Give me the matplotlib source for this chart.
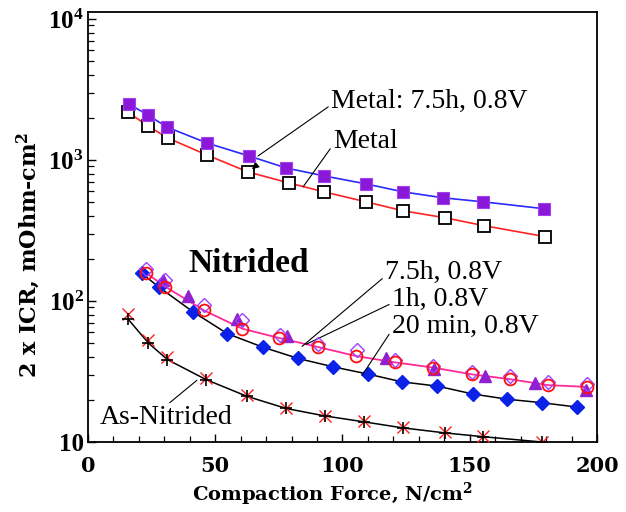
import matplotlib
matplotlib.use("Agg")
import matplotlib.pyplot as plt
from matplotlib.ticker import FixedLocator, FixedFormatter, MultipleLocator, LogLocator, NullFormatter

plt.rcParams['font.family'] = ['Liberation Serif', 'DejaVu Serif']
plt.rcParams['mathtext.fontset'] = 'custom'
plt.rcParams['mathtext.rm'] = 'Liberation Serif:bold'
plt.rcParams['mathtext.bf'] = 'Liberation Serif:bold'

# ---- data ----
metal75_x = [16.1, 23.6, 31.0, 46.8, 63.3, 77.8, 92.7, 109.2, 123.8, 139.5, 155.2, 179.2]
metal75_y = [2490, 2080, 1711, 1318, 1067, 878, 771, 677, 594, 539, 505, 451]

metal_x = [15.7, 23.6, 31.4, 46.8, 62.9, 79.0, 92.7, 109.2, 123.8, 140.3, 155.6, 179.6]
metal_y = [2183, 1738, 1430, 1083, 822, 687, 594, 505, 436, 389, 342, 286]

min20_x = [21.1, 28.0, 41.4, 54.8, 68.6, 82.6, 96.4, 110.1, 123.3, 137.3, 151.2, 164.8, 178.3, 192.0]
min20_y = [157, 125, 83.4, 58.6, 47.1, 39.1, 34.1, 30.3, 26.7, 24.9, 21.9, 20.1, 19.0, 17.7]

h75_x = [22.8, 30.3, 45.6, 60.6, 75.2, 90.5, 105.3, 120.6, 135.7, 150.7, 165.8, 180.9, 195.9]
h75_y = [158, 126.5, 85.7, 63.6, 54.6, 47.1, 40.7, 36.7, 33.7, 30.2, 27.9, 25.3, 24.6]

h1_x = [22.9, 30.3, 45.6, 60.4, 75.4, 90.5, 105.6, 120.6, 135.6, 150.7, 165.8, 180.9, 195.9]
h1_y = [169, 140, 92.9, 72.8, 57.7, 49.9, 44.7, 38.4, 34.4, 31.4, 29.3, 26.7, 25.7]

tri_x = [29.6, 39.4, 58.4, 78.3, 117.1, 136.0, 156.0, 175.6, 195.7]
tri_y = [140, 108, 74, 56.4, 39.1, 33.2, 29.3, 26.0, 23.3]

asn_x = [15.6, 23.7, 31.2, 46.4, 62.4, 77.8, 93.1, 108.4, 123.6, 140.3, 155.3, 178.3]
asn_y = [74.9, 50.4, 38.4, 27.7, 21.1, 17.3, 15.3, 13.9, 12.6, 11.6, 10.9, 10.0]
asn_red_y = [80.6, 52.5, 40.0, 28.6, 21.4, 17.3, 15.4, 14.0, 12.8, 11.7, 11.0, 10.0]

ytick_vals = [10, 100, 1000, 10000]
ytick_labels = ['10', r'$\mathregular{10^2}$', r'$\mathregular{10^3}$', r'$\mathregular{10^4}$']
xtick_vals = [0, 50, 100, 150, 200]

fig = plt.figure(figsize=(6.26, 5.12), dpi=100)
ax = fig.add_axes([88/626, 1-442/512, (597-88)/626, (442-12)/512])

# Metal series
ax.plot(metal_x, metal_y, '-', color='#ff2222', lw=1.2, zorder=2)
ax.plot(metal_x, metal_y, 's', mfc='white', mec='black', mew=1.3, ms=8.5, zorder=3)
ax.plot(metal75_x, metal75_y, '-', color='#2a2aff', lw=1.2, zorder=2)
ax.plot(metal75_x, metal75_y, 's', mfc='#8a18d8', mec='#a040f0', mew=0.8, ms=9, zorder=4)

# Nitrided series
ax.plot(min20_x, min20_y, '-', color='black', lw=1.1, zorder=2)
ax.plot(min20_x, min20_y, 'D', mfc='#0a22e8', mec='#0a22e8', ms=7, zorder=3)
ax.plot(h75_x, h75_y, '-', color='#ff2a9a', lw=1.3, zorder=2)
ax.plot(tri_x, tri_y, '^', mfc='#9020d0', mec='#9020d0', ms=8.5, zorder=3)
ax.plot(h1_x, h1_y, 'D', mfc='none', mec='#a040ff', mew=1.0, ms=7.5, zorder=4)
ax.plot(h75_x, h75_y, 'o', mfc='none', mec='#ff1010', mew=1.3, ms=8.5, zorder=5)

# As-nitrided
ax.plot(asn_x, asn_y, '-', color='black', lw=1.1, zorder=2)
ax.plot(asn_x, asn_red_y, 'x', color='#ff2020', mew=1.0, ms=8, zorder=3)
ax.plot(asn_x, asn_y, '+', color='black', mew=1.2, ms=9, zorder=4)

ax.set_yscale('log')
ax.set_xlim(0, 200)
ax.set_ylim(10, 11200)

ax.yaxis.set_major_locator(FixedLocator(ytick_vals))
ax.yaxis.set_major_formatter(FixedFormatter(ytick_labels))
ax.yaxis.set_minor_locator(LogLocator(base=10, subs=range(2, 10)))
ax.yaxis.set_minor_formatter(NullFormatter())
ax.xaxis.set_major_locator(FixedLocator(xtick_vals))
ax.xaxis.set_minor_locator(MultipleLocator(10))

ax.tick_params(which='both', direction='in', top=False, right=False)
ax.tick_params(which='major', length=6, width=1.0)
ax.tick_params(which='minor', length=4, width=0.9)
ax.tick_params(axis='x', labelsize=15, pad=10)
ax.tick_params(axis='y', labelsize=18, pad=3)
for lab in ax.get_xticklabels():
    lab.set_fontweight('bold')
    lab.set_family('DejaVu Serif')
for lab in ax.get_yticklabels():
    lab.set_fontweight('bold')
for s in ax.spines.values():
    s.set_linewidth(1.3)

ax.set_xlabel('Compaction Force, N/cm$^\\mathregular{2}$', fontsize=14, fontweight='bold',
              family='DejaVu Serif')
ax.xaxis.set_label_coords(0.48, -0.088)
ax.set_ylabel('2 x ICR, mOhm-cm$^\\mathregular{2}$', fontsize=16, fontweight='bold',
              family='DejaVu Serif')
ax.yaxis.set_label_coords(-0.09, 0.435)

# annotations
ann_kw = dict(fontsize=20, va='center', ha='left')
line_kw = dict(arrowstyle='-', color='black', lw=0.8, relpos=(0, 0.35), shrinkA=0, shrinkB=0)
ax.annotate('Metal: 7.5h, 0.8V', xy=(66.8, 1067), xytext=(95.5, 2612), arrowprops=line_kw, **ann_kw)
ax.annotate('Metal', xy=(84.5, 644), xytext=(96.3, 1361), arrowprops=line_kw, **ann_kw)
ax.text(39.3, 184, 'Nitrided', fontsize=24, fontweight='bold', va='center', ha='left')
ax.annotate('7.5h, 0.8V', xy=(84.1, 47.6), xytext=(116.7, 159), arrowprops=line_kw, **ann_kw)
ax.annotate('1h, 0.8V', xy=(85.7, 49.3), xytext=(119.4, 102.6), arrowprops=line_kw, **ann_kw)
ax.annotate('20 min, 0.8V', xy=(107.7, 29.7), xytext=(119.4, 66.1), arrowprops=line_kw, **ann_kw)
ax.annotate('As-Nitrided', xy=(42.8, 27.4), xytext=(4.7, 14.8),
            arrowprops=dict(line_kw, relpos=(0.5, 1.0)), **ann_kw)
ax.annotate('', xy=(63.6, 835), xytext=(66.6, 930),
            arrowprops=dict(arrowstyle='-|>', color='black', lw=0.8, mutation_scale=10))

fig.savefig('out.png', dpi=100)
